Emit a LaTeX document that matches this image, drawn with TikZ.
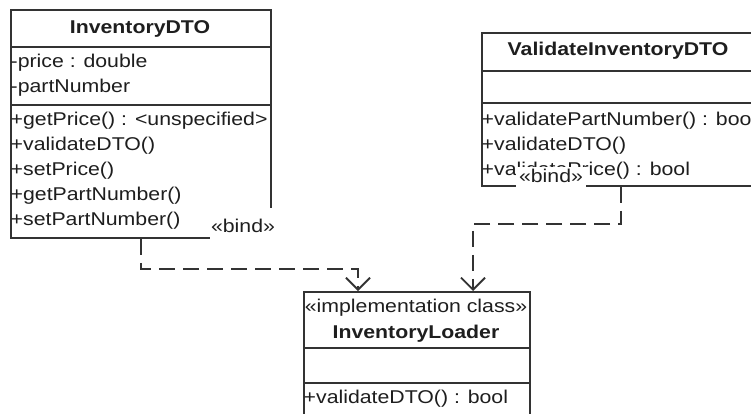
\documentclass[tikz,border=0pt]{standalone}
\usepackage{fontspec}
\setmainfont{Liberation Sans}[FakeStretch=1.15]
\usetikzlibrary{arrows.meta,calc}
\definecolor{ink}{HTML}{333333}
\definecolor{txt}{HTML}{1E1E1E}
\newcommand{\umlfont}{\fontsize{18.5}{22}\selectfont}
\begin{document}
\begin{tikzpicture}[x=1pt,y=-1pt,
  box/.style={draw=ink, line width=1.8pt, rectangle, inner sep=0pt, anchor=north west},
  rule/.style={draw=ink, line width=1.8pt},
  member/.style={anchor=base west, inner sep=0pt, text=txt, font=\umlfont},
  title/.style={anchor=base, inner sep=0pt, text=txt, font=\umlfont\bfseries},
  stereo/.style={anchor=base, inner sep=0pt, text=txt, font=\umlfont},
  bindlabel/.style={anchor=base, fill=white, inner sep=0pt, text=txt, font=\umlfont},
  dep/.style={draw=ink, line width=1.8pt, dash pattern=on 16pt off 8pt,
    -{Straight Barb[length=12pt,width=24pt]}}
]
\clip (0,0) rectangle (751,413);
\fill[white] (0,0) rectangle (751,413);

% --- class boxes ---
\node[box, minimum width=260pt, minimum height=228pt] (dto) at (10,9) {};
\node[box, minimum width=274pt, minimum height=153pt] (val) at (481,32) {};
\node[box, minimum width=226pt, minimum height=140pt] (loader) at (303,291) {};

% compartment dividers
\draw[rule] (10,47) -- (270,47);
\draw[rule] (10,105) -- (270,105);
\draw[rule] (481,71) -- (755,71);
\draw[rule] (481,103) -- (755,103);
\draw[rule] (303,348) -- (529,348);
\draw[rule] (303,383) -- (529,383);

% InventoryDTO
\node[title] (dtoname) at (140,33) {InventoryDTO};
\node[member] (dtoa1) at (10.5,67) {-price : double};
\node[member] (dtoa2) at (10.5,92) {-partNumber};
\node[member] (dtom1) at (10.5,125) {+getPrice() : <unspecified>};
\node[member] (dtom2) at (10.5,150) {+validateDTO()};
\node[member] (dtom3) at (10.5,175) {+setPrice()};
\node[member] (dtom4) at (10.5,200) {+getPartNumber()};
\node[member] (dtom5) at (10.5,225) {+setPartNumber()};

% ValidateInventoryDTO
\node[title] (valname) at (618,55) {ValidateInventoryDTO};
\node[member] (valm1) at (481.5,125) {+validatePartNumber() : bool};
\node[member] (valm2) at (481.5,150) {+validateDTO()};
\node[member] (valm3) at (481.5,175) {+validatePrice() : bool};

% InventoryLoader
\node[stereo] (ldrstereo) at (416,312) {«implementation class»};
\node[title] (ldrname) at (416,338) {InventoryLoader};
\node[member] (ldrm1) at (303.5,403) {+validateDTO() : bool};

% --- bind dependencies ---
\draw[dep] ($(dto.south west)+(131,0)$) -- ++(0,30) -| ($(loader.north west)+(55,0)$);
\draw[dep] ($(val.south west)+(140,0)$) -- ++(0,37) -| ($(loader.north west)+(170,0)$);

% dependency labels
\node[bindlabel, minimum width=66pt, text height=24pt, text depth=8pt] (bind1) at (243,232) {«bind»};
\node[bindlabel, minimum width=70pt, text height=15pt, text depth=5pt] (bind2) at (551,182) {«bind»};
\end{tikzpicture}
\end{document}
